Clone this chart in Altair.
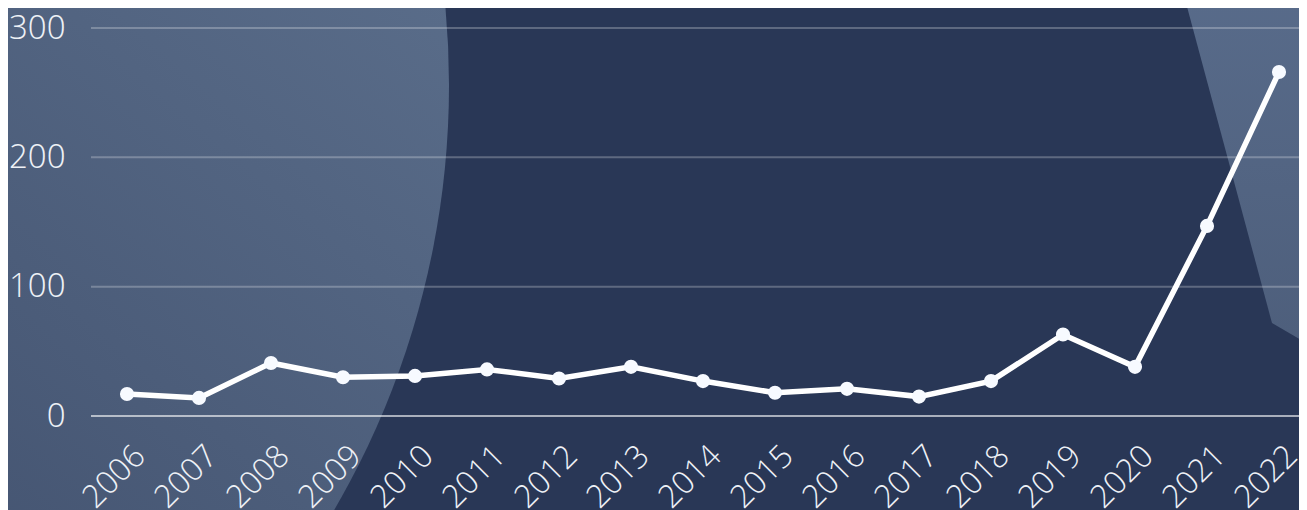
import altair as alt
import pandas as pd

years = [str(y) for y in range(2006, 2023)]
values = [17, 14, 41, 30, 31, 36, 29, 38, 27, 18, 21, 15, 27, 63, 38, 147, 266]
y_ticks = [0, 100, 200, 300]

df = pd.DataFrame({"year": years, "value": values})
grid_df = pd.DataFrame({"tick": y_ticks})

BG = "#293756"
FONT = "Open Sans Light, Open Sans"
PLOT_W = 1208
PLOT_H = 388

one = alt.Data(values=[{"k": 0}])

# decorative background shapes (pixel coordinates relative to plot origin)
circle = alt.Chart(one).mark_point(
    shape="circle",
    filled=True,
    size=1688 * 1688,
    opacity=1,
    strokeWidth=0,
    fill={
        "gradient": "linear",
        "stops": [
            {"offset": 0, "color": "#596c89"},
            {"offset": 1, "color": "#455572"},
        ],
        "x1": 1, "y1": 0.45, "x2": 0.72, "y2": 0.78,
    },
).encode(x=alt.value(-486), y=alt.value(57))

poly = alt.Chart(one).mark_point(
    shape="M1091,-40 L1181,295 L1250,335 L1250,-40 Z",
    filled=True,
    size=4,
    opacity=1,
    strokeWidth=0,
    fill={
        "gradient": "linear",
        "stops": [
            {"offset": 0, "color": "#586b8a"},
            {"offset": 1, "color": "#4d5e7b"},
        ],
        "x1": 0.5, "y1": 0, "x2": 0.5, "y2": 1,
    },
).encode(x=alt.value(0), y=alt.value(0))

x_enc = alt.X(
    "year:O",
    sort=years,
    scale=alt.Scale(type="point", range=[36, 1188], padding=0),
    axis=alt.Axis(
        title=None,
        labelAngle=-45,
        labelAlign="right",
        labelBaseline="top",
        labelPadding=24,
        labelOffset=2,
        labelFont=FONT,
        labelFontWeight=300,
        labelFontSize=32,
        labelColor="#eef1f6",
        ticks=False,
        domain=False,
        grid=False,
        zindex=2,
    ),
)

y_scale = alt.Scale(domain=[0, 300])

y_enc = alt.Y(
    "value:Q",
    scale=y_scale,
    axis=alt.Axis(
        title=None,
        values=y_ticks,
        labelFont=FONT,
        labelFontWeight=300,
        labelFontSize=33,
        labelColor="#eef1f6",
        labelPadding=26,
        ticks=False,
        domain=False,
        grid=False,
        zindex=2,
    ),
)

grid = alt.Chart(grid_df).mark_rule(
    color="#ffffff", opacity=0.25, strokeWidth=2
).encode(
    y=alt.Y("tick:Q", scale=y_scale),
    x=alt.value(0),
    x2=alt.value(PLOT_W),
)

zero = alt.Chart(grid_df).transform_filter(
    alt.datum.tick == 0
).mark_rule(color="#ffffff", opacity=0.47, strokeWidth=2).encode(
    y=alt.Y("tick:Q", scale=y_scale),
    x=alt.value(0),
    x2=alt.value(PLOT_W),
)

line = alt.Chart(df).mark_line(color="#ffffff", strokeWidth=5.5).encode(x=x_enc, y=y_enc)
pts = alt.Chart(df).mark_point(
    filled=True, color="#f7faff", size=200, opacity=1
).encode(x=x_enc, y=y_enc)

chart = alt.layer(circle, poly, grid, zero, line, pts).properties(
    width=PLOT_W,
    height=PLOT_H,
    autosize=alt.AutoSizeParams(type="none"),
    padding={"left": 83, "top": 20, "right": 0, "bottom": 94},
    background=BG,
).configure_view(stroke=None)

chart.save("out.html", embed_options={"renderer": "svg", "actions": False})
